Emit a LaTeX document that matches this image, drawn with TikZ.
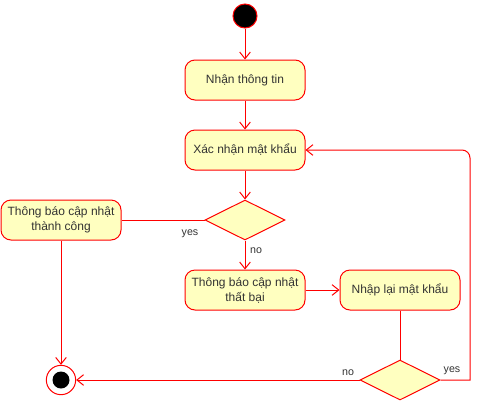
\documentclass[tikz,border=0pt]{standalone}
\usepackage{fontspec}
\setmainfont{Liberation Sans}
\usetikzlibrary{shapes.geometric,arrows.meta}

\definecolor{umlred}{HTML}{FF0000}
\definecolor{umlfill}{HTML}{FFFFC0}
\definecolor{umltext}{HTML}{333333}

\tikzset{
	action/.style={draw=umlred, fill=umlfill, rounded corners=7.5pt, minimum width=90pt,
		minimum height=30pt, align=center, text=umltext, font=\fontsize{9}{11.25}\selectfont, line width=0.75pt},
	choice/.style={draw=umlred, fill=umlfill, diamond, minimum width=60pt, minimum height=30pt,
		inner sep=0pt, line width=0.75pt},
	flow/.style={umlred, line width=0.75pt, -{Straight Barb[length=5pt,width=8pt]}},
	link/.style={umlred, line width=0.75pt},
	tag/.style={text=umltext, font=\fontsize{8}{9}\selectfont, inner sep=0pt}
}

\begin{document}
\begin{tikzpicture}[x=0.75pt,y=-0.75pt]
		\useasboundingbox (0,0) rectangle (481,411);
		% start and end
		\node[circle, draw=umlred, fill=black, minimum size=18pt, inner sep=0pt, line width=0.75pt] (start) at (245,16) {};
		\node[circle, draw=umlred, fill=white, minimum size=22pt, inner sep=0pt, line width=0.75pt] (stop) at (61,380) {};
		\fill[black] (stop.center) circle (8.5);
		% actions
		\node[action] (info) at (245,80) {Nhận thông tin};
		\node[action] (verify) at (245,150) {Xác nhận mật khẩu};
		\node[choice] (check) at (245,220) {};
		\node[action] (success) at (61,220) {Thông báo cập nhật\\thành công};
		\node[action] (fail) at (245,290) {Thông báo cập nhật\\thất bại};
		\node[action] (retry) at (400,290) {Nhập lại mật khẩu};
		\node[choice] (again) at (400,380) {};
		\coordinate (bend) at (470,380);
		% flows
		\draw[flow] (start) -- (info);
		\draw[flow] (info) -- (verify);
		\draw[flow] (verify) -- (check);
		\draw[link] (check.west) -- (success.east);
		\draw[flow] (check.south) -- (fail);
		\draw[flow] (fail) -- (retry);
		\draw[link] (retry) -- (again.north);
		\draw[flow] (again.east) -- (bend) [rounded corners=6pt] -- (bend |- verify.east) -- (verify.east);
		\draw[flow] (again.west) -- (stop);
		\draw[flow] (success) -- (stop);
		% labels
		\node[tag] (yes1) at (190,234) {yes};
		\node[tag] (no1) at (256,251) {no};
		\node[tag] (no2) at (348,373) {no};
		\node[tag] (yes2) at (452,371) {yes};
	\end{tikzpicture}
\end{document}
